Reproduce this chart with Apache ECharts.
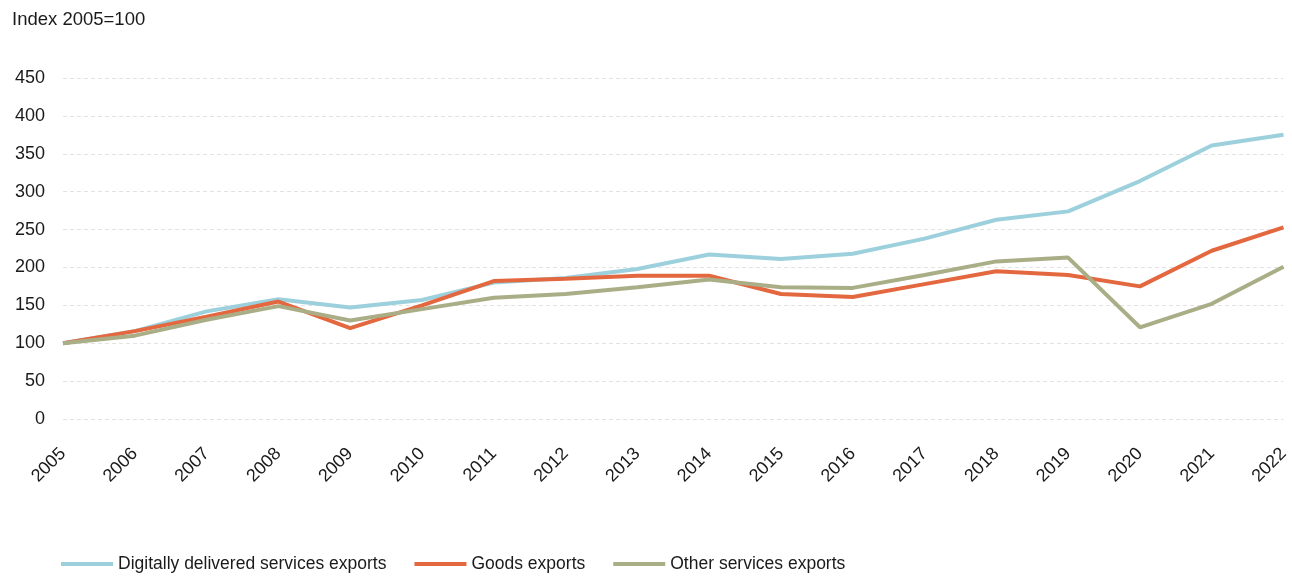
<!DOCTYPE html>
<html><head><meta charset="utf-8">
<script src="https://cdn.jsdelivr.net/npm/echarts@6/dist/echarts.min.js"></script>
<style>html,body{margin:0;padding:0;background:#fff}#c{width:1292px;height:578px}</style>
</head><body><div id="c"></div>
<script>
const years = ['2005','2006','2007','2008','2009','2010','2011','2012','2013','2014','2015','2016','2017','2018','2019','2020','2021','2022'];
const digital = [100,116,142,158,147,157,180,186,198,217,211,218,238,263,274,314,361,375];
const goods = [100,116,135,155,120,150,182,185,189,189,165,161,178,195,190,175,222,253];
const other = [100,110,131,149,130,145,160,165,174,184,174,173,190,208,213,121,152,201];
const yTicks = {min:0, max:450, interval:50};
const FONT = '"Liberation Sans", Arial, Helvetica, sans-serif';
const chart = echarts.init(document.getElementById('c'));
const mk = (name, data, color) => ({name, type:'line', data, symbol:'none', smooth:false,
  lineStyle:{width:4, color}, itemStyle:{color}, z: 2});
chart.setOption({
  animation:false,
  textStyle:{fontFamily:FONT},
  title:{text:'Index 2005=100', left:7, top:5, textStyle:{fontSize:18.5, fontWeight:'normal', color:'#1a1a1a', fontFamily:FONT}},
  grid:{left:63, right:5, top:78, bottom:159},
  legend:{left:56, top:550, itemWidth:52, itemHeight:4, itemGap:28, icon:'rect',
    textStyle:{fontSize:17.5, color:'#1a1a1a', fontFamily:FONT},
    data:['Digitally delivered services exports','Goods exports','Other services exports']},
  xAxis:{type:'category', data:years, boundaryGap:false,
    axisLine:{show:false}, axisTick:{show:false},
    axisLabel:{rotate:45, fontSize:18, color:'#1a1a1a', margin:32, fontFamily:FONT}},
  yAxis:{type:'value', min:yTicks.min, max:yTicks.max, interval:yTicks.interval,
    axisLine:{show:false}, axisTick:{show:false},
    axisLabel:{fontSize:18, color:'#1a1a1a', margin:18, fontFamily:FONT},
    splitLine:{lineStyle:{type:[4,3], color:'#e3e3e3', width:1}}},
  series:[
    mk('Digitally delivered services exports', digital, '#9dd0dd'),
    mk('Goods exports', goods, '#e4683f'),
    mk('Other services exports', other, '#aaae86')
  ]
});
</script></body></html>
